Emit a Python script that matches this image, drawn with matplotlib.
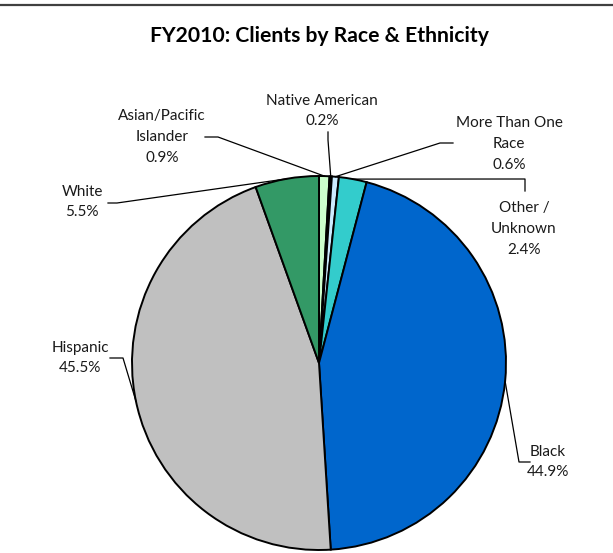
import matplotlib

matplotlib.use("Agg")

import matplotlib.pyplot as plt
import numpy as np
from matplotlib.lines import Line2D

# slice order clockwise from 12 o'clock
categories = ["Asian/Pacific\nIslander", "Native American", "More Than One\nRace",
              "Other /\nUnknown", "Black", "Hispanic", "White"]
shares = [0.9, 0.2, 0.6, 2.4, 44.9, 45.5, 5.5]
colors = ["#ccffcc", "#000000", "#ccecff", "#33cccc", "#0066cc", "#c0c0c0", "#339966"]

W, H = 613, 553
CX, CY, R = 319, H - 363, 187

# label text centre (pixels from top-left) and leader elbow points
label_pos = [(162, 137), (322, 111), (509, 144), (524, 229), (548, 462), (80, 358), (82, 202)]
leaders = [
    [(205, 137), (218, 137)],
    [(328, 132), (328, 140)],
    [(453, 143), (440, 143)],
    [(525, 191), (525, 179)],
    [(530, 462), (519, 462)],
    [(110, 358), (123, 358)],
    [(108, 203), (117, 203)],
]

fig = plt.figure(figsize=(W / 100, H / 100), dpi=100)
ax = fig.add_axes([0, 0, 1, 1])
plt.rcParams["font.family"] = ["Lato", "DejaVu Sans"]

wedges, _ = ax.pie(shares, colors=colors, startangle=90, counterclock=False,
                   center=(CX, CY), radius=R,
                   wedgeprops=dict(edgecolor="black", linewidth=1.4))
ax.set_xlim(0, W)
ax.set_ylim(0, H)
ax.set_aspect("equal")
ax.axis("off")

for w, name, val, (lx, ly), pts in zip(wedges, categories, shares, label_pos, leaders):
    mid = np.deg2rad((w.theta1 + w.theta2) / 2)
    ex, ey = CX + R * np.cos(mid), CY + R * np.sin(mid)
    xs = [p[0] for p in pts] + [ex]
    ys = [H - p[1] for p in pts] + [ey]
    ax.plot(xs, ys, color="black", lw=0.9, zorder=5)
    ax.text(lx, H - ly, f"{name}\n{val:.1f}%", ha="center", va="center",
            fontsize=11, color="#1a1a1a", linespacing=1.62)

ax.text(319, H - 36, "FY2010: Clients by Race & Ethnicity", ha="center", va="center",
        fontsize=15.2, fontweight="bold", color="black")

fig.add_artist(Line2D([0, 1], [1 - 5 / H, 1 - 5 / H], color="#404040", lw=1.6,
                      transform=fig.transFigure))

fig.savefig("out.png", dpi=100)
